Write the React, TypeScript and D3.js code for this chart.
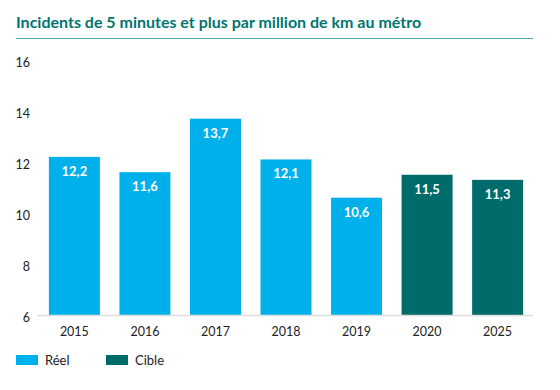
import React from "react";
import * as d3 from "d3";

const years = ["2015", "2016", "2017", "2018", "2019", "2020", "2025"];
const values = [12.2, 11.6, 13.7, 12.1, 10.6, 11.5, 11.3];
const kinds = ["Réel", "Réel", "Réel", "Réel", "Réel", "Cible", "Cible"];
const yTicks = [6, 8, 10, 12, 14, 16];
const legendItems = ["Réel", "Cible"];
const colors: Record<string, string> = { "Réel": "#00b0eb", "Cible": "#006b6b" };

export default function App() {
  const W = 560, H = 390;
  const x = d3.scaleBand<string>().domain(years).range([39, 533]).paddingInner(0.277).paddingOuter(0.14);
  const y = d3.scaleLinear().domain([6, 16]).range([315, 60]);
  const font = "Lato, 'Open Sans', sans-serif";
  const fmt = (v: number) => v.toFixed(1).replace(".", ",");
  return (
    <svg width={W} height={H} style={{ position: "absolute", left: 0, top: 0, fontFamily: font }}>
      <rect width={W} height={H} fill="#fff" />
      <text x={16} y={28} fontSize={16} fontWeight={700} fill="#00756f">
        Incidents de 5 minutes et plus par million de km au métro
      </text>
      <line x1={16} x2={533} y1={38.5} y2={38.5} stroke="#4aabab" strokeWidth={1} />
      {yTicks.map((t) => (
        <text key={t} x={30} y={y(t) + 7} textAnchor="end" fontSize={12.5} fill="#222">
          {t}
        </text>
      ))}
      {years.map((yr, i) => (
        <g key={yr}>
          <rect x={x(yr)} y={y(values[i])} width={x.bandwidth()} height={y(6) - y(values[i])} fill={colors[kinds[i]]} />
          <text x={(x(yr) as number) + x.bandwidth() / 2} y={y(values[i]) + 19} textAnchor="middle" fontSize={13} fontWeight={700} fill="#fff">
            {fmt(values[i])}
          </text>
          <text x={(x(yr) as number) + x.bandwidth() / 2} y={336} textAnchor="middle" fontSize={12.5} fill="#222">
            {yr}
          </text>
        </g>
      ))}
      <line x1={37} x2={533} y1={315.5} y2={315.5} stroke="#ddd" strokeWidth={1.5} />
      {legendItems.map((k, i) => (
        <g key={k} transform={`translate(${16 + i * 90},355)`}>
          <rect width={22} height={10} fill={colors[k]} />
          <text x={29} y={10} fontSize={13} fill="#222">{k}</text>
        </g>
      ))}
    </svg>
  );
}
